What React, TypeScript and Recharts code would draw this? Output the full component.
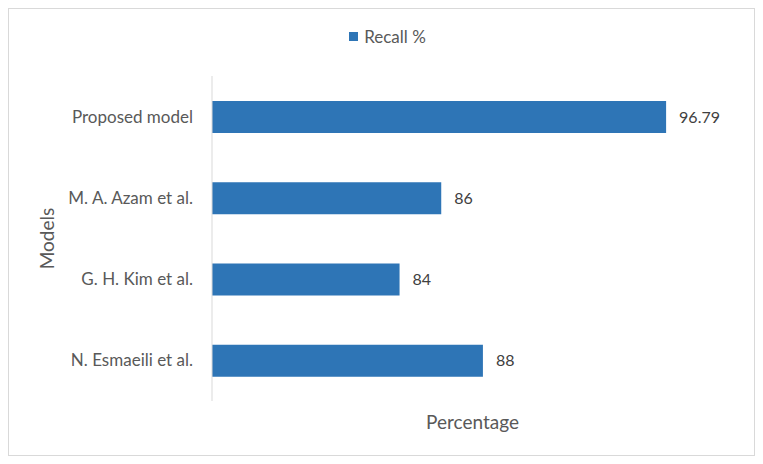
import { BarChart, Bar, XAxis, YAxis, Legend, LabelList } from "recharts";

const models = ["Proposed model", "M. A. Azam et al.", "G. H. Kim et al.", "N. Esmaeili et al."];
const recall = [96.79, 86, 84, 88];
const xDomain = [75, 100];

const data = models.map((m, i) => ({ model: m, recall: recall[i] }));

const font = "Lato, 'Open Sans', sans-serif";

function ModelsLabel(props: any) {
  const vb = props.viewBox || {};
  const x = 37;
  const y = vb.y + vb.height / 2;
  return (
    <text x={x} y={y} fill="#595959" fontSize={19} fontFamily={font} textAnchor="middle" dominantBaseline="central" transform={`rotate(-90 ${x} ${y})`}>
      Models
    </text>
  );
}

function LegendContent() {
  return (
    <div style={{ display: "flex", justifyContent: "center", alignItems: "center", fontFamily: font, fontSize: 17, color: "#595959", paddingLeft: 12 }}>
      <span style={{ width: 9, height: 9, background: "#2e75b6", marginRight: 6, display: "inline-block" }} />
      Recall %
    </div>
  );
}

export default function App() {
  return (
    <div style={{ width: 747, height: 448, border: "1px solid #d9d9d9", boxSizing: "border-box", background: "#fff" }}>
      <BarChart width={745} height={446} data={data} layout="vertical" margin={{ top: 46, right: 21, bottom: 0, left: 0 }}>
        <Legend verticalAlign="top" content={<LegendContent />} wrapperStyle={{ top: 17, left: 0, width: 745 }} />
        <XAxis type="number" domain={xDomain} allowDataOverflow tick={false} axisLine={false} tickLine={false} height={54}
          label={{ value: "Percentage", position: "insideBottom", offset: 26, fill: "#595959", fontSize: 19, fontFamily: font }} />
        <YAxis type="category" dataKey="model" width={203} axisLine={{ stroke: "#d9d9d9" }} tickLine={false} tickSize={0} tickMargin={19}
          tick={{ fill: "#595959", fontSize: 17, fontFamily: font }} label={<ModelsLabel />} />
        <Bar dataKey="recall" fill="#2e75b6" barSize={32} isAnimationActive={false}>
          <LabelList dataKey="recall" position="right" offset={13} fill="#404040" fontSize={16} fontFamily={font} />
        </Bar>
      </BarChart>
    </div>
  );
}
